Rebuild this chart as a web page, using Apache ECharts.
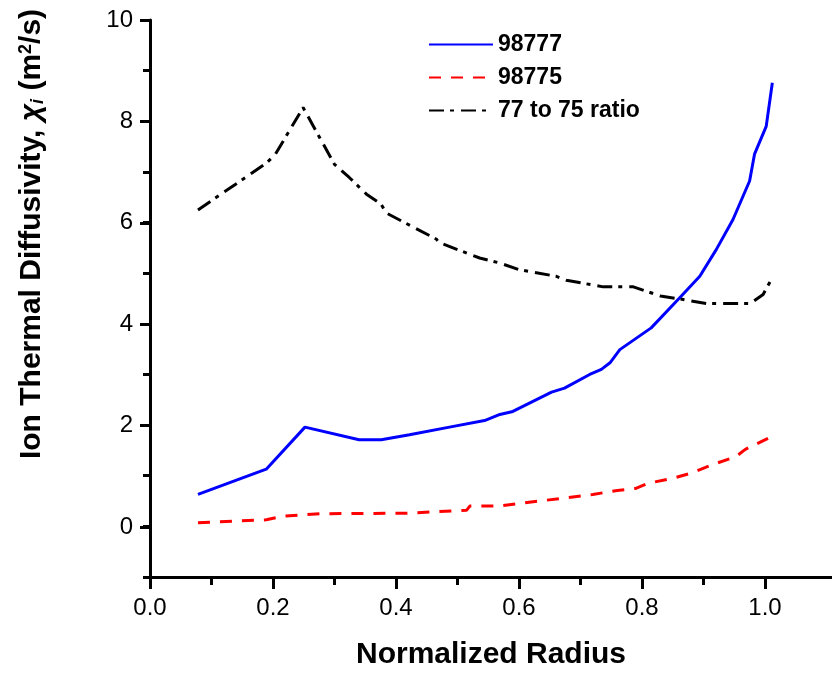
<!DOCTYPE html>
<html>
<head>
<meta charset="utf-8">
<script src="https://cdn.jsdelivr.net/npm/echarts@6/dist/echarts.min.js"></script>
<style>
html,body{margin:0;padding:0;background:#fff;}
#chart{width:832px;height:675px;}
</style>
</head>
<body>
<div id="chart"></div>
<script>
// ---- data ----
const seriesNames = ['98777', '98775', '77 to 75 ratio'];

const x98777 = [0.078, 0.189, 0.252, 0.340, 0.376, 0.422, 0.487, 0.544, 0.569, 0.590, 0.653, 0.674, 0.715, 0.734, 0.748, 0.764, 0.815, 0.861, 0.894, 0.921, 0.948, 0.975, 0.983, 1.002, 1.012];
const y98777 = [0.63, 1.13, 1.96, 1.71, 1.71, 1.81, 1.96, 2.09, 2.21, 2.27, 2.65, 2.73, 3.00, 3.10, 3.23, 3.49, 3.92, 4.51, 4.94, 5.47, 6.06, 6.82, 7.35, 7.90, 8.76];

const x98775 = [0.078, 0.189, 0.215, 0.277, 0.420, 0.515, 0.520, 0.565, 0.600, 0.640, 0.680, 0.720, 0.760, 0.790, 0.810, 0.850, 0.880, 0.915, 0.953, 0.968, 1.012];
const y98775 = [0.07, 0.13, 0.20, 0.25, 0.26, 0.32, 0.40, 0.40, 0.45, 0.51, 0.57, 0.63, 0.71, 0.75, 0.85, 0.95, 1.05, 1.22, 1.38, 1.52, 1.78];

const xRatio = [0.078, 0.189, 0.204, 0.249, 0.300, 0.324, 0.352, 0.376, 0.384, 0.466, 0.469, 0.536, 0.569, 0.600, 0.660, 0.677, 0.737, 0.786, 0.830, 0.862, 0.905, 0.976, 0.997, 1.012];
const yRatio = [6.25, 7.17, 7.35, 8.27, 7.15, 6.89, 6.56, 6.36, 6.19, 5.67, 5.61, 5.30, 5.20, 5.07, 4.94, 4.86, 4.73, 4.73, 4.55, 4.49, 4.40, 4.40, 4.58, 4.91];

const xTitle = 'Normalized Radius';
const yTitleText = 'Ion Thermal Diffusivity, {chi|χ}{sub|i}{n| (m}{sup|2}{n|/s)}';

// ---- build ----
const FONT = '"Liberation Sans", Arial, Helvetica, sans-serif';
const zip = (xs, ys) => xs.map((v, i) => [v, ys[i]]);

const chart = echarts.init(document.getElementById('chart'), null, {renderer: 'canvas'});

const axisLineStyle = {color: '#000', width: 3};
const GL = 150, GT = 20, GB = 97;

const option = {
  backgroundColor: '#fff',
  animation: false,
  grid: [
    {left: GL, top: GT, right: 0, bottom: GB},          // data grid
    {left: GL, top: GT, width: 615, bottom: GB},        // x ticks 0..1.0
    {left: GL, top: GT, right: 0, bottom: 148}          // y ticks 0..10
  ],
  xAxis: [
    {type: 'value', gridIndex: 0, position: 'bottom', min: 0, max: 1.109,
     axisLine: {show: true, lineStyle: axisLineStyle, onZero: false},
     axisTick: {show: false}, axisLabel: {show: false}, splitLine: {show: false},
     name: xTitle, nameLocation: 'middle', nameGap: 63,
     nameTextStyle: {fontFamily: FONT, fontSize: 30, fontWeight: 'bold', color: '#000'}},
    {type: 'value', gridIndex: 1, position: 'bottom', min: 0, max: 1, interval: 0.1,
     axisLine: {show: false, onZero: false},
     axisTick: {show: true, length: 7, lineStyle: {color: '#000', width: 3}},
     axisLabel: {show: false}, splitLine: {show: false}},
    {type: 'value', gridIndex: 1, position: 'bottom', offset: 0, min: 0, max: 1, interval: 0.2,
     axisLine: {show: false, onZero: false},
     axisTick: {show: true, length: 11, lineStyle: {color: '#000', width: 3}},
     axisLabel: {show: true, margin: 18, fontFamily: FONT, fontSize: 24, color: '#000',
                 formatter: v => v.toFixed(1)},
     splitLine: {show: false}},
    {type: 'value', gridIndex: 2, position: 'bottom', min: 0, max: 1, show: false}
  ],
  yAxis: [
    {type: 'value', gridIndex: 0, position: 'left', min: -1, max: 10, interval: 1,
     axisLine: {show: true, lineStyle: axisLineStyle, onZero: false},
     axisTick: {show: true, length: 7, lineStyle: {color: '#000', width: 3}},
     axisLabel: {show: false}, splitLine: {show: false}},
    {type: 'value', gridIndex: 1, position: 'left', min: -1, max: 10, show: false},
    {type: 'value', gridIndex: 2, position: 'left', min: 0, max: 10, interval: 2,
     axisLine: {show: false, onZero: false},
     axisTick: {show: true, length: 10, lineStyle: {color: '#000', width: 3}},
     axisLabel: {show: true, margin: 17, fontFamily: FONT, fontSize: 24, color: '#000'},
     splitLine: {show: false}}
  ],
  legend: {
    show: true, orient: 'vertical', left: 428, top: 33, padding: 0,
    itemWidth: 64, itemHeight: 14, itemGap: 10,
    data: seriesNames,
    itemStyle: {opacity: 0},
    textStyle: {fontFamily: FONT, fontSize: 23, fontWeight: 'bold', color: '#000', lineHeight: 22}
  },
  series: [
    {name: seriesNames[0], type: 'line', xAxisIndex: 0, yAxisIndex: 0, data: zip(x98777, y98777),
     symbol: 'none', lineStyle: {color: '#0000ff', width: 3, type: 'solid'}, itemStyle: {color: '#0000ff'}},
    {name: seriesNames[1], type: 'line', xAxisIndex: 0, yAxisIndex: 0, data: zip(x98775, y98775),
     symbol: 'none', lineStyle: {color: '#ff0000', width: 3, type: [12, 10]}, itemStyle: {color: '#ff0000'}},
    {name: seriesNames[2], type: 'line', xAxisIndex: 0, yAxisIndex: 0, data: zip(xRatio, yRatio),
     symbol: 'none', lineStyle: {color: '#000000', width: 3, type: [15, 6, 4, 7]}, itemStyle: {color: '#000000'}}
  ],
  graphic: [
    {type: 'text', x: 32, y: 234, rotation: Math.PI / 2,
     style: {
       text: yTitleText,
       fontFamily: FONT, fontSize: 30, fontWeight: 'bold', fill: '#000',
       align: 'center', verticalAlign: 'middle',
       rich: {
         n: {fontFamily: FONT, fontSize: 30, fontWeight: 'bold', fill: '#000'},
         chi: {fontFamily: FONT, fontSize: 30, fontWeight: 'bold', fontStyle: 'italic', fill: '#000'},
         sub: {fontFamily: FONT, fontSize: 18, fontWeight: 'bold', fontStyle: 'italic', fill: '#000', verticalAlign: 'bottom'},
         sup: {fontFamily: FONT, fontSize: 18, fontWeight: 'bold', fill: '#000', verticalAlign: 'top'}
       }
     }}
  ]
};
chart.setOption(option);
</script>
</body>
</html>
